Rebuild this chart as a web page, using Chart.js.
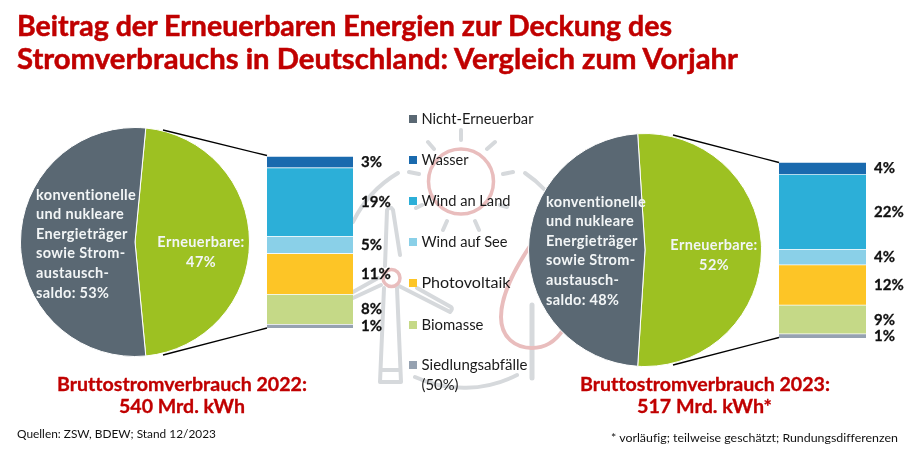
<!DOCTYPE html>
<html lang="de">
<head>
<meta charset="utf-8">
<title>Beitrag der Erneuerbaren Energien</title>
<script src="https://cdn.jsdelivr.net/npm/chart.js@4"></script>
<style>
html,body{margin:0;padding:0;background:#fff;}
#stage{position:relative;width:920px;height:452px;overflow:hidden;background:#fff;}
canvas{position:absolute;}
svg{position:absolute;left:0;top:0;font-variant-ligatures:none;}
.k{position:absolute;width:8px;height:8px;}
</style>
</head>
<body>
<div id="stage">
<svg id="deco" width="920" height="452" viewBox="0 0 920 452" fill="none">
  <g stroke="#d6d9dc" stroke-width="4" stroke-linecap="round" stroke-linejoin="round">
    <path d="M461 130V140M428 142L434 149M495 142L487 149M409 172L419 174M513 172L503 174M416 208L422 205M500 205L507 207M447 221L443 230M475 221L479 230"/>
    <path d="M398 173A116 116 0 0 0 353 222"/>
    <path d="M525 173A116 116 0 0 1 545 190"/>
    <path d="M415 377A116 116 0 0 0 517 375"/>
    <path d="M532 305V378" stroke-width="5"/>
    <path d="M384 288L380 382H401L397 288M381 370H400"/>
    <path d="M385 266L387 210Q390 205 393 210L400 255"/>
    <path d="M399 286L450 312Q453 309 451 307L417 288"/>
    <path d="M378 278L353 292"/>
    <path d="M381 285L353 298"/>
  </g>
  <g stroke="#e9bdbd" fill="none">
    <circle cx="461" cy="181.5" r="32.5" stroke-width="3.5"/>
    <circle cx="391.5" cy="278" r="8.5" stroke-width="3.5"/>
    <path d="M530 246C510 276 501 298 501 317C501 338 516 348 532 348C545 348 555 342 563 330" stroke-width="4"/>
  </g>
</svg>
<canvas id="pie22" style="left:20px;top:127px"></canvas>
<canvas id="bar22" style="left:267px;top:156px"></canvas>
<canvas id="pie23" style="left:528px;top:133px"></canvas>
<canvas id="bar23" style="left:779px;top:162px"></canvas>
<svg id="over" width="920" height="452" viewBox="0 0 920 452"></svg>
</div>
<script>
const categories = ["Wasser","Wind an Land","Wind auf See","Photovoltaik","Biomasse","Siedlungsabfälle (50%)"];
const pieCategories = ["Erneuerbare","Nicht-Erneuerbar"];
const pie2022 = [47,53];
const pie2023 = [52,48];
const bars2022 = [3.13,18.8,4.63,11.17,8.17,1.09];
const bars2023 = [3.6,22.1,4.6,11.9,8.5,1.3];
const barLabels2022 = ["3%","19%","5%","11%","8%","1%"];
const barLabels2023 = ["4%","22%","4%","12%","9%","1%"];
const legendLabels = ["Nicht-Erneuerbar","Wasser","Wind an Land","Wind auf See","Photovoltaik","Biomasse","Siedlungsabfälle"];
const pieColors = ["#9dc122","#5a6873"];
const barColors = ["#1a6aae","#2cafd8","#8ad0e8","#fdc526","#c5d987","#96a2b1"];
const legendColors = ["#5a6873","#1a6aae","#2cafd8","#8ad0e8","#fdc526","#c5d987","#96a2b1"];
const greyLines2022 = ["konventionelle","und nukleare","Energieträger","sowie Strom-","austausch-","saldo: 53%"];
const greyLines2023 = ["konventionelle","und nukleare","Energieträger","sowie Strom-","austausch-","saldo: 48%"];
const greenLines2022 = ["Erneuerbare:","47%"];
const greenLines2023 = ["Erneuerbare:","52%"];

const FONT = "Lato, Carlito, sans-serif";
Chart.defaults.font.family = FONT;
Chart.defaults.animation = false;
Chart.defaults.responsive = false;

function pieTextPlugin(grey, green, gx, gy, rx, ry){
  return {id:"pieText", afterDatasetsDraw(c){
    const x = c.ctx; x.save();
    x.fillStyle = "#f2f5f6"; x.font = "bold 14.5px "+FONT; x.textBaseline="middle";
    x.letterSpacing = "0.35px";
    x.textAlign="left";
    grey.forEach((t,i)=>x.fillText(t,gx,gy+i*19.6));
    x.textAlign="center";
    green.forEach((t,i)=>x.fillText(t,rx,ry+i*20));
    x.restore();
  }};
}
function barTextPlugin(labels){
  return {id:"barText", afterDatasetsDraw(c){
    const x = c.ctx; x.save();
    x.fillStyle = "#111"; x.strokeStyle="#111"; x.lineWidth=0.3; x.font = "bold 15px "+FONT; x.textBaseline="middle"; x.textAlign="left";
    c.data.datasets.forEach((d,i)=>{
      const el = c.getDatasetMeta(i).data[0];
      const px = el.x+el.width/2+8, py = (el.y+el.base)/2+0.5;
      x.fillText(labels[i], px, py); x.strokeText(labels[i], px, py);
    });
    x.restore();
  }};
}
function makePie(id, size, values, rotation, plugin){
  const cv = document.getElementById(id); cv.width=size; cv.height=size;
  new Chart(cv,{type:"pie",
    data:{labels:pieCategories,datasets:[{data:values,backgroundColor:pieColors,borderColor:"#fff",borderWidth:1}]},
    options:{rotation,layout:{padding:0},plugins:{legend:{display:false},tooltip:{enabled:false}}},
    plugins:[plugin]});
}
function makeBar(id, w, h, pad, values, labels){
  const cv = document.getElementById(id); cv.width=w; cv.height=h+16;
  const total = values.reduce((a,b)=>a+b,0);
  new Chart(cv,{type:"bar",
    data:{labels:[""],datasets:values.map((v,i)=>({label:categories[i],data:[v],backgroundColor:barColors[i],borderColor:"#fff",borderWidth:{top:1,bottom:0},borderSkipped:false,barPercentage:1,categoryPercentage:1}))},
    options:{layout:{padding:{right:pad,bottom:16}},
      scales:{x:{stacked:true,display:false},y:{stacked:true,display:false,min:0,max:total,reverse:true}},
      plugins:{legend:{display:false},tooltip:{enabled:false}}},
    plugins:[barTextPlugin(labels)]});
}
makePie("pie22",230,pie2022,5.4,pieTextPlugin(greyLines2022,greenLines2022,16,68,181,115));
makeBar("bar22",130,172,44,bars2022,barLabels2022);
makePie("pie23",234,pie2023,-3.6,pieTextPlugin(greyLines2023,greenLines2023,18,69,186,112));
makeBar("bar23",130,176,43,bars2023,barLabels2023);

/* legend, titles and connector lines */
const NS="http://www.w3.org/2000/svg", over=document.getElementById("over"), stage=document.getElementById("stage");
function text(s,x,y,size,weight,fill,len,heavy){
  const t=document.createElementNS(NS,"text");
  t.textContent=s;
  t.setAttribute("x",x);t.setAttribute("y",y);
  t.setAttribute("font-family",FONT);t.setAttribute("font-size",size);t.setAttribute("font-weight",weight);
  t.setAttribute("fill",fill);
  if(heavy){t.setAttribute("stroke",fill);t.setAttribute("stroke-width",heavy);}
  if(len){t.setAttribute("textLength",len);t.setAttribute("lengthAdjust","spacingAndGlyphs");}
  over.appendChild(t);
}
function line(a,b,c,d){
  const l=document.createElementNS(NS,"line");
  l.setAttribute("x1",a);l.setAttribute("y1",b);l.setAttribute("x2",c);l.setAttribute("y2",d);
  l.setAttribute("stroke","#000");l.setAttribute("stroke-width","1.3");
  over.appendChild(l);
}
line(163,130,267,155.5);line(163,355,267,328);
line(673,135,779,162.5);line(673,365,779,337.5);

const RED="#c00000";
text("Beitrag der Erneuerbaren Energien zur Deckung des",17,35.5,28,"bold",RED,655,0.5);
text("Stromverbrauchs in Deutschland: Vergleich zum Vorjahr",17,69,28,"bold",RED,721,0.5);
text("Bruttostromverbrauch 2022:",57,390.5,18.5,"bold",RED,250,0.3);
text("540 Mrd. kWh",119,412.5,18.5,"bold",RED,126,0.3);
text("Bruttostromverbrauch 2023:",580,390.5,18.5,"bold",RED,250,0.3);
text("517 Mrd. kWh*",637,412.5,18.5,"bold",RED,135,0.3);
text("Quellen: ZSW, BDEW; Stand 12/2023",17,438,12,"normal","#111",199);
text("* vorläufig; teilweise geschätzt; Rundungsdifferenzen",611,442,12,"normal","#111",287);

const legendY=[118.5,160,201,242,283,324.5,365];
const legendLen=[112,47,89,86,89,62,106];
legendLabels.forEach((s,i)=>{
  const k=document.createElement("div");k.className="k";
  k.style.left="409px";k.style.top=(legendY[i]-4)+"px";k.style.background=legendColors[i];
  stage.appendChild(k);
  text(s,421.5,legendY[i]+5,14.5,"normal","#1a1a1a",legendLen[i]);
});
text("(50%)",421.5,390,14.5,"normal","#1a1a1a",37);
</script>
</body>
</html>
